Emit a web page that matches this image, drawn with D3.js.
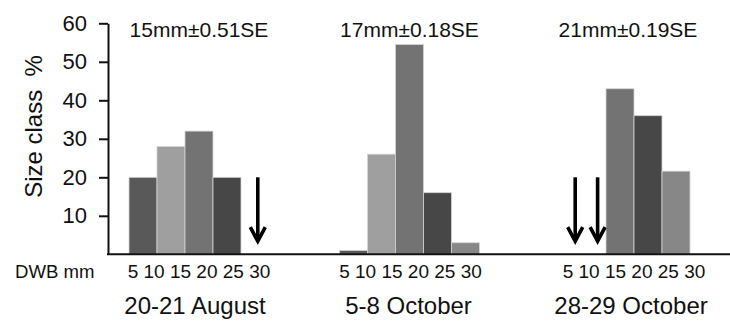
<!DOCTYPE html>
<html>
<head>
<meta charset="utf-8">
<script src="https://cdn.jsdelivr.net/npm/d3@7/dist/d3.min.js"></script>
<style>
  html, body { margin: 0; padding: 0; background: #fff; }
  svg { display: block; }
  text { font-family: "Liberation Sans", Arial, sans-serif; fill: #111; }
</style>
</head>
<body>
<svg id="chart" width="730" height="325"></svg>
<script>
// Size-class distributions (% of sample) in 5 mm DWB bins, three sampling dates
const sampleDates = ["20-21 August", "5-8 October", "28-29 October"];
const meanLabels = ["15mm\u00B10.51SE", "17mm\u00B10.18SE", "21mm\u00B10.19SE"];
const sizeClasses = [5, 10, 15, 20, 25, 30];      // bin edge labels, mm
const binStarts = [5, 10, 15, 20, 25];            // lower edge of each bin, mm
const augustPct = [20, 28, 32, 20, 0];
const earlyOctoberPct = [1, 26, 54.5, 16, 3];
const lateOctoberPct = [0, 0, 43, 36, 21.6];
const yTicks = [10, 20, 30, 40, 50, 60];
// empty size classes marked with a down arrow (sample index, DWB position in mm)
const arrowSamples = [0, 2, 2];
const arrowMm = [28, 9.5, 13.5];

const seriesPct = [augustPct, earlyOctoberPct, lateOctoberPct];
const binFill = ["#595959", "#9f9f9f", "#737373", "#474747", "#878787"];

const svg = d3.select("#chart");
const baseY = 254.3, topY = 23.3, axisX = 108;

const y = d3.scaleLinear().domain([0, 60]).range([baseY, topY]);

// one band per sampling date
const panel = d3.scaleBand()
  .domain(sampleDates)
  .range([129, 690])
  .paddingInner(0.335)
  .paddingOuter(0);

const mm = d3.scaleLinear().domain([5, 30]).range([0, panel.bandwidth()]);

// small per-panel nudges of the text rows
const titleShift = [0, 0, 8];
const tickShift = [0, 1, 14];
const dateShift = [-4, -1, 11];

// bars
sampleDates.forEach((date, i) => {
  const g = svg.append("g").attr("transform", `translate(${panel(date)},0)`);
  const rows = binStarts.map((b, j) => ({ b, v: seriesPct[i][j], j })).filter(d => d.v > 0);
  g.selectAll("rect").data(rows).join("rect")
    .attr("x", d => mm(d.b))
    .attr("width", d => mm(d.b + 5) - mm(d.b))
    .attr("y", d => y(d.v))
    .attr("height", d => y(0) - y(d.v))
    .attr("fill", d => binFill[d.j])
    .attr("stroke", "#d4d4d4")
    .attr("stroke-width", 0.8);

  const cx = mm(17.5);
  g.append("text")
    .attr("x", cx + titleShift[i]).attr("y", 37)
    .attr("text-anchor", "middle")
    .style("font-size", "21px")
    .text(meanLabels[i]);

  g.append("text")
    .attr("x", cx + tickShift[i]).attr("y", 278)
    .attr("text-anchor", "middle")
    .style("font-size", "19px")
    .text(sizeClasses.join(" "));

  g.append("text")
    .attr("x", cx + dateShift[i]).attr("y", 314)
    .attr("text-anchor", "middle")
    .style("font-size", "24px")
    .text(date);
});

// arrows for empty classes
const arrows = arrowSamples.map((s, k) => ({ s, m: arrowMm[k] }));
const ag = svg.append("g").attr("stroke", "#000").attr("fill", "none")
  .attr("stroke-width", 3.6);
arrows.forEach(a => {
  const x = panel(sampleDates[a.s]) + mm(a.m);
  const y0 = y(20), y1 = y(3.4);
  ag.append("line").attr("x1", x).attr("x2", x).attr("y1", y0).attr("y2", y1 - 1);
  ag.append("path")
    .attr("d", `M${x - 7.5},${y1 - 14} L${x},${y1} L${x + 7.5},${y1 - 14}`)
    .attr("stroke-linejoin", "miter");
});

// y axis
const yAxis = d3.axisLeft(y).tickValues(yTicks).tickSize(9).tickSizeOuter(0).tickPadding(12);
const ya = svg.append("g").attr("transform", `translate(${axisX},0)`).call(yAxis);
ya.select(".domain").attr("stroke", "#111").attr("stroke-width", 2);
ya.selectAll(".tick line").attr("stroke", "#111").attr("stroke-width", 2);
ya.selectAll(".tick text")
  .style("font-family", "'Liberation Sans', Arial, sans-serif")
  .style("font-size", "22px").attr("fill", "#111");

// baseline
svg.append("line")
  .attr("x1", axisX - 1).attr("x2", 730)
  .attr("y1", y(0)).attr("y2", y(0))
  .attr("stroke", "#111").attr("stroke-width", 2);

// axis titles
svg.append("text")
  .attr("transform", `translate(42,126.5) rotate(-90)`)
  .attr("text-anchor", "middle")
  .style("font-size", "24px")
  .style("white-space", "pre")
  .text("Size class  %");

svg.append("text")
  .attr("x", 15).attr("y", 278)
  .style("font-size", "18.6px")
  .text("DWB mm");
</script>
</body>
</html>
